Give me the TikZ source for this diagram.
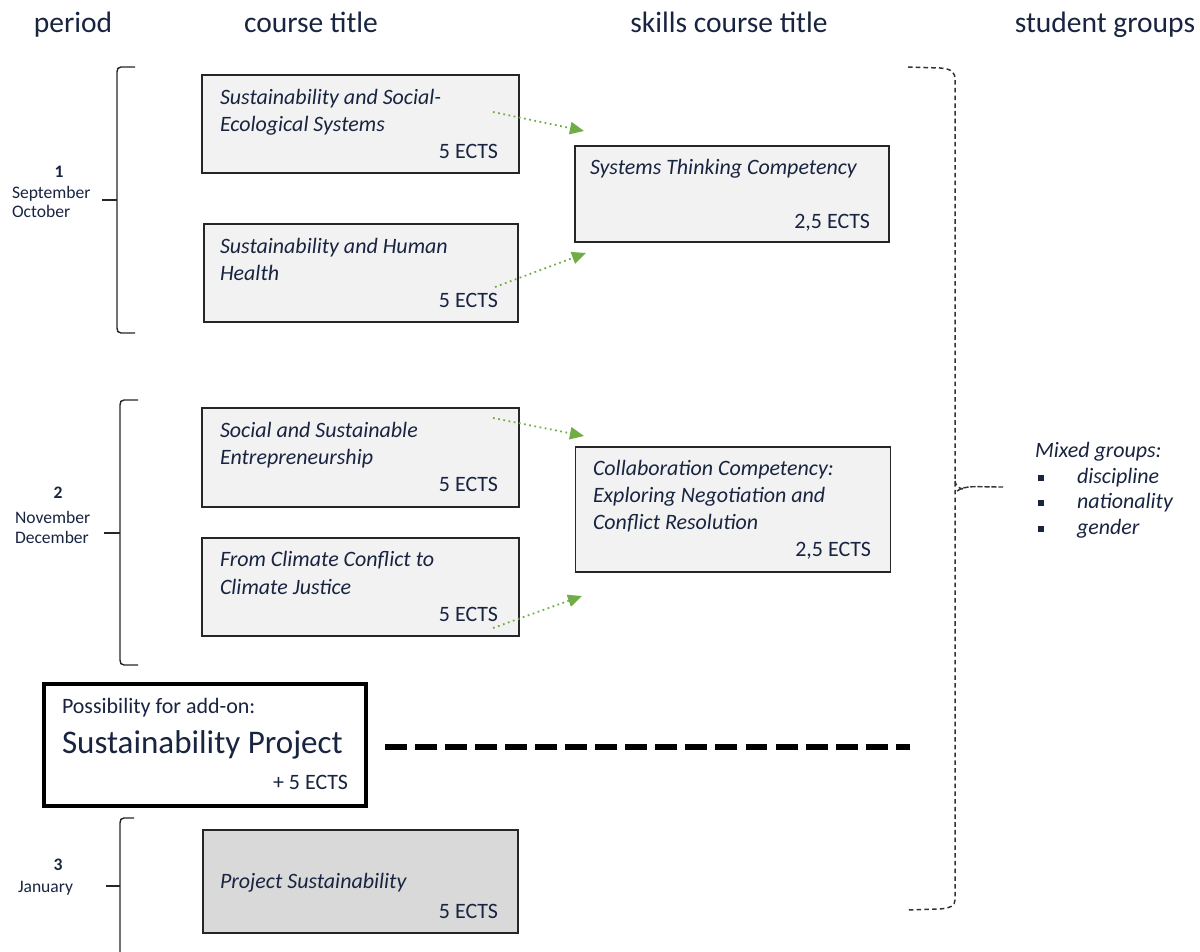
\documentclass[tikz,border=0pt]{standalone}
\usepackage{fontspec}
\setmainfont{Carlito}
\usetikzlibrary{arrows.meta}
\definecolor{navy}{RGB}{24,36,64}
\definecolor{boxfill}{RGB}{242,242,242}
\definecolor{darkfill}{RGB}{217,217,217}
\definecolor{agreen}{RGB}{112,173,71}
\begin{document}
\begin{tikzpicture}[x=0.02cm,y=-0.02cm,
  every node/.style={inner sep=0pt,outer sep=0pt},
  sz/.style n args={2}{minimum width=#1*0.02cm,minimum height=#2*0.02cm},
  head/.style={font=\fontsize{16.8}{19}\selectfont,text=navy,anchor=base},
  cbox/.style={draw=black!85,line width=0.9pt,fill=boxfill},
  pbox/.style={draw=black!85,line width=0.9pt,fill=darkfill},
  addbox/.style={draw=black,line width=1.8pt,fill=white},
  ctext/.style={font=\fontsize{12.5}{15.4}\selectfont\itshape,text=navy,align=left,anchor=base west},
  ects/.style={font=\fontsize{12.5}{15.4}\selectfont,text=navy,anchor=base east},
  plab/.style={font=\fontsize{10}{11}\selectfont,text=navy},
  brace/.style={draw=black!85,line width=0.8pt},
  dbrace/.style={draw=black!80,line width=0.85pt,dash pattern=on 2.6pt off 1.8pt},
  garrow/.style={draw=agreen,line width=1pt,dotted,-{Triangle[length=8pt,width=7pt]}},
  bullet/.style={fill=navy,minimum size=0.11cm}
]
\useasboundingbox (0,0) rectangle (1200,952);

% headers
\node[head] (h1) at (73,33) {period};
\node[head] (h2) at (311,33) {course title};
\node[head] (h3) at (729,33) {skills course title};
\node[head] (h4) at (1105,33) {student groups};

% period 1
\node[cbox,sz={317}{98}] (c1) at (360.5,124) {};
\node[ctext] (c1t) at (220,132) {Sustainability and Social-\\Ecological Systems};
\node[ects] (c1e) at (498,159) {5 ECTS};
\node[cbox,sz={314}{98}] (c2) at (361,273) {};
\node[ctext] (c2t) at (220,281) {Sustainability and Human\\Health};
\node[ects] (c2e) at (498,308) {5 ECTS};
\node[cbox,sz={314}{96}] (s1) at (732,194) {};
\node[ctext] (s1t) at (590,175) {Systems Thinking Competency};
\node[ects] (s1e) at (870,229) {2,5 ECTS};

% period 2
\node[cbox,sz={317}{99}] (c3) at (360.5,457.5) {};
\node[ctext] (c3t) at (220,465) {Social and Sustainable\\Entrepreneurship};
\node[ects] (c3e) at (498,492) {5 ECTS};
\node[cbox,sz={317}{98}] (c4) at (360.5,587) {};
\node[ctext] (c4t) at (220,594) {From Climate Conflict to\\Climate Justice};
\node[ects] (c4e) at (498,621) {5 ECTS};
\node[cbox,sz={315}{125}] (s2) at (733,509.5) {};
\node[ctext] (s2t) at (593,530) {Collaboration Competency:\\Exploring Negotiation and\\Conflict Resolution};
\node[ects] (s2e) at (871,557) {2,5 ECTS};

% add-on box
\node[addbox,sz={322}{122}] (ad) at (205,745) {};
\node[font=\fontsize{12.5}{15}\selectfont,text=navy,anchor=base west] (adt) at (62,713) {Possibility for add-on:};
\node[font=\fontsize{18.8}{22}\selectfont,text=navy,anchor=base west] (adn) at (62,753) {Sustainability Project};
\node[ects] (ade) at (348,789) {+ 5 ECTS};

% period 3
\node[pbox,sz={315}{103}] (c5) at (360.5,881.5) {};
\node[ctext] (c5t) at (220,888) {Project Sustainability};
\node[ects] (c5e) at (498,918) {5 ECTS};

% period labels
\node[plab,anchor=base,font=\fontsize{10}{11}\selectfont\bfseries] (n1) at (59,178) {1};
\node[plab,anchor=base west,align=left] (m1) at (12,218) {September\\October};
\node[plab,anchor=base,font=\fontsize{10}{11}\selectfont\bfseries] (n2) at (58,499) {2};
\node[plab,anchor=base west,align=left] (m2) at (15,543) {November\\December};
\node[plab,anchor=base,font=\fontsize{10}{11}\selectfont\bfseries] (n3) at (58,870) {3};
\node[plab,anchor=base west,align=left] (m3) at (18,892) {January};

% left braces
\draw[brace] (135,67) -- (121,67) .. controls (118,67) and (117,69) .. (117,72) -- (117,328) .. controls (117,331) and (118,333) .. (121,333) -- (135,333);
\draw[brace] (117,200) -- (102,200);
\draw[brace] (138,400) -- (124,400) .. controls (121,400) and (120,402) .. (120,405) -- (120,660) .. controls (120,663) and (121,665) .. (124,665) -- (138,665);
\draw[brace] (120,533) -- (104,533);
\draw[brace] (134,818) -- (124,818) .. controls (121,818) and (120,820) .. (120,823) -- (120,952);
\draw[brace] (120,886) -- (106,886);

% right dashed brace
\draw[dbrace] (908,67) -- (940,68) .. controls (952,69) and (955,72) .. (955,80) -- (955,900) .. controls (955,906) and (950,908) .. (940,909) -- (908,910);
\draw[dbrace] (955,481) .. controls (956,486) and (958,488) .. (963,489);
\draw[draw=black!80,line width=0.8pt,dash pattern=on 3pt off 1pt] (957,491) .. controls (966,485) and (974,487) .. (1003,487);

% mixed groups
\node[ctext] (mg) at (1035,458) {Mixed groups:};
\node[bullet] (b1) at (1041,478) {};
\node[bullet] (b2) at (1041,503) {};
\node[bullet] (b3) at (1041,529) {};
\node[ctext] (g1) at (1077,484) {discipline};
\node[ctext] (g2) at (1077,509) {nationality};
\node[ctext] (g3) at (1077,535) {gender};

% green arrows
\coordinate (a1s) at (493,112); \coordinate (a1e) at (584,131);
\coordinate (a2s) at (495,287); \coordinate (a2e) at (586,253);
\coordinate (a3s) at (493,418); \coordinate (a3e) at (584,436);
\coordinate (a4s) at (493,628); \coordinate (a4e) at (582,596);
\draw[garrow] (a1s) -- (a1e);
\draw[garrow] (a2s) -- (a2e);
\draw[garrow] (a3s) -- (a3e);
\draw[garrow] (a4s) -- (a4e);

% big dashed line
\coordinate (dl1) at (385,747); \coordinate (dl2) at (910,747);
\draw[line width=3.6pt,dash pattern=on 12.5pt off 4.6pt] (dl1) -- (dl2);
\end{tikzpicture}
\end{document}
